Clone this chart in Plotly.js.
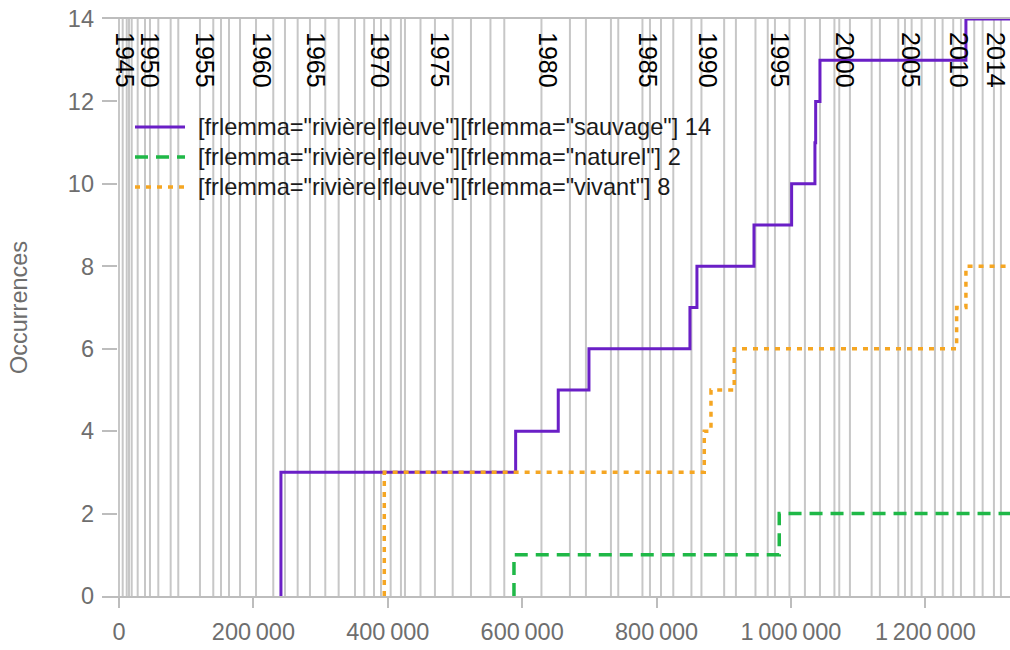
<!DOCTYPE html>
<html>
<head>
<meta charset="utf-8">
<script src="https://cdn.plot.ly/plotly-3.0.1.min.js"></script>
<style>html,body{margin:0;padding:0;background:#fff;}#chart{width:1010px;height:650px;}</style>
</head>
<body>
<div id="chart"></div>
<script>
// ---- data ----
const corpusEnd = 1326000;
const sauvageX = [241000, 590300, 653700, 699400, 849700, 860100, 945000, 1001000, 1035700, 1036800, 1043200, 1260400];
const sauvageY = [3, 4, 5, 6, 7, 8, 9, 10, 11, 12, 13, 14];
const naturelX = [587800, 982600];
const naturelY = [1, 2];
const vivantX = [394800, 871000, 881000, 915600, 1246600, 1260400];
const vivantY = [3, 4, 5, 6, 7, 8];
const seriesNames = [
  '[frlemma="rivière|fleuve"][frlemma="sauvage"] 14',
  '[frlemma="rivière|fleuve"][frlemma="naturel"] 2',
  '[frlemma="rivière|fleuve"][frlemma="vivant"] 8'
];
const seriesColors = ['#6a1fc6', '#1fb847', '#f5a623'];
const seriesDash = ['solid', '13px,8px', '5px,6px'];
const seriesWidth = [3, 3.5, 3.5];
const docBounds = [0, 5500, 11500, 14900, 18900, 27800, 38700, 46100, 58500, 76900, 88200, 120500, 140300, 151800, 163700, 180100, 203900, 229600, 247000, 265900, 284200, 307000, 326900, 351200, 365000, 379500, 389900, 404300, 419600, 425600, 448700, 470200, 496600, 523800, 552800, 573400, 628700, 671100, 694900, 732100, 743000, 779000, 790200, 806600, 824900, 851900, 866800, 900600, 918100, 947200, 965500, 976200, 997800, 1020800, 1043200, 1064700, 1071900, 1087800, 1120100, 1132400, 1159700, 1169700, 1179600, 1194500, 1214300, 1225700, 1241500, 1253000, 1272800, 1285300, 1302100, 1312500];
const yearLabels = ['1945', '1950', '1955', '1960', '1965', '1970', '1975', '1980', '1985', '1990', '1995', '2000', '2005', '2010', '2014'];
const yearPos = [8900, 46100, 128000, 212800, 293200, 388400, 478000, 638400, 787200, 876500, 984200, 1080400, 1178600, 1250000, 1305000];
const xTickVals = [0, 200000, 400000, 600000, 800000, 1000000, 1200000];
const xTickText = ['0', '200\u2009000', '400\u2009000', '600\u2009000', '800\u2009000', '1\u2009000\u2009000', '1\u2009200\u2009000'];
const yTickVals = [0, 2, 4, 6, 8, 10, 12, 14];

// ---- helpers ----
function stepSeries(xs, ys) {
  const x = [xs[0]], y = [0];
  xs.forEach((v, i) => { x.push(v); y.push(ys[i]); });
  x.push(corpusEnd); y.push(ys[ys.length - 1]);
  return {x, y};
}
const FONT = 'Liberation Sans, Arial, sans-serif';
const series = [stepSeries(sauvageX, sauvageY), stepSeries(naturelX, naturelY), stepSeries(vivantX, vivantY)];

const traces = series.map((s, i) => ({
  x: s.x, y: s.y, name: seriesNames[i], mode: 'lines', showlegend: false,
  line: {shape: 'hv', color: seriesColors[i], width: seriesWidth[i], dash: seriesDash[i]}
}));

// plot area in pixels: left 102, right 1010, top 19, bottom 596
const PL = 102, PW = 908, PB = 596, PH = 577;
const px = v => (v - PL) / PW;
const py = v => (PB - v) / PH;

const shapes = docBounds.map(v => ({
  type: 'line', xref: 'x', yref: 'paper', x0: v, x1: v, y0: 0, y1: 1,
  layer: 'below', line: {color: 'rgba(180,180,180,0.75)', width: 2}
}));

const annotations = yearLabels.map((t, i) => ({
  text: t, x: yearPos[i], xref: 'x', y: 1, yref: 'paper', yanchor: 'top', xanchor: 'center',
  yshift: -11, textangle: 90, showarrow: false, font: {family: FONT, size: 25, color: '#000'}
}));

// custom legend (rows at 127, 157, 187 px)
const legendRows = [127, 157, 187];
seriesNames.forEach((n, i) => {
  shapes.push({type: 'line', xref: 'paper', yref: 'paper', x0: px(135), x1: px(185),
    y0: py(legendRows[i]), y1: py(legendRows[i]), layer: 'above',
    line: {color: seriesColors[i], width: seriesWidth[i], dash: seriesDash[i]}});
  annotations.push({text: n, xref: 'paper', yref: 'paper', x: px(196), y: py(legendRows[i]),
    xanchor: 'left', yanchor: 'middle', showarrow: false,
    font: {family: FONT, size: 23.6, color: '#1a1a1a'}});
});

const layout = {
  width: 1010, height: 650,
  margin: {l: PL, r: 0, t: 19, b: 54, pad: 0},
  paper_bgcolor: '#fff', plot_bgcolor: '#fff',
  showlegend: false,
  xaxis: {range: [-25300, 1326000], showgrid: false, zeroline: false,
          showline: true, mirror: true, linecolor: '#bdbdbd', linewidth: 2,
          ticks: 'outside', ticklen: 10, tickwidth: 2, tickcolor: '#bdbdbd',
          ticklabelstandoff: 4,
          tickvals: xTickVals, ticktext: xTickText,
          tickfont: {family: FONT, size: 23.5, color: '#6e6e6e'}},
  yaxis: {range: [0, 14], showgrid: false, zeroline: false, showline: false,
          ticks: 'inside', ticklen: 15, tickwidth: 2, tickcolor: '#bdbdbd',
          ticklabelstandoff: 7,
          tickvals: yTickVals, tickfont: {family: FONT, size: 23.5, color: '#6e6e6e'},
          title: {text: 'Occurrences', font: {family: FONT, size: 23.5, color: '#6e6e6e'}, standoff: 33}},
  shapes: shapes,
  annotations: annotations,
  font: {family: FONT}
};
Plotly.newPlot('chart', traces, layout, {displayModeBar: false, staticPlot: true});
</script>
</body>
</html>
